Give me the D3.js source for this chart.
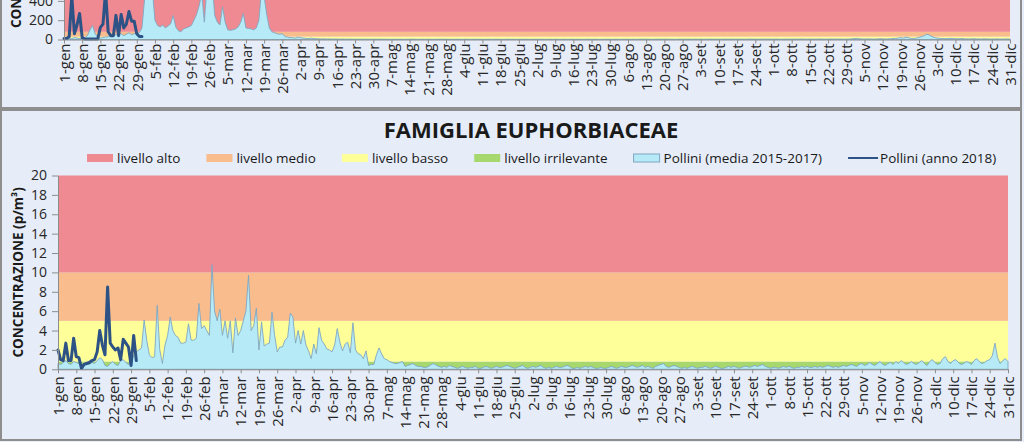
<!DOCTYPE html>
<html><head><meta charset="utf-8">
<script src="https://cdn.jsdelivr.net/npm/d3@7"></script>
<style>body{margin:0;background:#e6edf8;} svg{display:block;font-family:"Open Sans",sans-serif;}</style>
</head><body><svg id="c" width="1024" height="442"></svg>
<script>
// ---------- DATA ----------
const weekLabels = ["1-gen","8-gen","15-gen","22-gen","29-gen","5-feb","12-feb","19-feb","26-feb","5-mar","12-mar","19-mar","26-mar","2-apr","9-apr","16-apr","23-apr","30-apr","7-mag","14-mag","21-mag","28-mag","4-giu","11-giu","18-giu","25-giu","2-lug","9-lug","16-lug","23-lug","30-lug","6-ago","13-ago","20-ago","27-ago","3-set","10-set","17-set","24-set","1-ott","8-ott","15-ott","22-ott","29-ott","5-nov","12-nov","19-nov","26-nov","3-dic","10-dic","17-dic","24-dic","31-dic"];
const levelNames = ["livello irrilevante","livello basso","livello medio","livello alto"];
const levelColors = ["#a6d86e","#ffff99","#f9bc8c","#f08a92"];
// upper bound of each level (irrilevante, basso, medio, alto)
const cupLevels = [10, 30, 80, 2000];
const euphLevels = [0.8, 5, 10, 20];
const cupTicks = [0,200,400,600,800,1000,1200,1400,1600,1800,2000];
const euphTicks = [0,2,4,6,8,10,12,14,16,18,20];
const seriesNames = ["Pollini (media 2015-2017)","Pollini (anno 2018)"];

// upper chart (partially visible) daily mean 2015-2017
const cupMedia = [
10,10,15,10,20,15,10,15,20,40,
100,145,60,20,15,20,25,30,40,35,
50,45,60,40,55,70,50,60,65,70,
120,420,600,750,520,200,145,130,150,120,
140,160,250,130,90,80,110,120,130,145,
200,260,350,480,180,550,700,600,250,180,
150,340,180,100,95,100,110,130,180,270,
120,115,110,100,120,200,520,450,260,120,
80,70,60,55,60,30,25,20,20,15,
25,20,15,12,10,15,10,8,6,5,
6,4,5,3,4,3,2,3,2,2,
3,2,1,2,1,1,2,1,1,2,
1,1,2,1,1,1,0,1,1,1,
1,0,1,1,2,1,0,1,1,0,
1,1,0,1,1,2,1,1,0,1,
0,1,1,0,1,1,1,0,1,1,
1,0,0,1,1,0,1,1,0,0,
1,1,0,1,0,0,1,1,1,0,
0,1,0,1,1,0,0,1,0,1,
1,0,1,0,0,1,1,0,1,0,
0,1,1,0,1,1,0,0,1,1,
1,0,1,1,0,1,1,1,0,1,
0,1,1,2,1,1,0,1,1,2,
1,1,2,1,1,0,1,2,1,1,
2,1,1,2,1,2,1,1,2,2,
1,2,1,1,2,2,1,2,2,1,
2,2,1,2,3,2,2,1,2,3,
2,3,2,2,3,2,1,2,3,2,
2,3,2,3,4,3,2,3,3,2,
3,4,3,2,3,4,3,3,4,3,
2,3,4,6,10,12,8,5,4,6,
5,4,3,5,8,6,4,5,7,10,
12,15,20,15,25,18,12,10,15,22,
30,40,55,45,30,20,15,12,10,8,
10,12,10,8,6,10,8,6,5,6,
8,6,5,4,6,5,4,3,4,5,
4,3,4,5,4
];
const cup2018 = [10,10,30,450,60,150,270,20,5,5,5,5,5,5,125,160,500,80,40,40,250,40,260,120,160,290,190,190,60,30,30];

// Euphorbiaceae daily mean 2015-2017
const euphMedia = [
0.6,0.5,0.7,0.9,0.6,0.5,0.8,0.7,0.6,0.4,
0.5,0.6,0.5,0.7,0.6,0.9,1.2,1.0,0.4,0.3,
0.6,0.8,0.5,0.4,0.9,1.0,0.7,0.5,0.9,1.4,
1.8,
2.0,2.2,5.1,3.0,1.5,1.2,1.3,6.6,2.0,0.6,
2.5,3.5,5.4,4.0,3.5,3.3,2.7,2.7,2.8,4.7,
3.0,3.0,3.2,6.8,4.2,4.5,4.0,3.5,10.8,6.0,
5.0,6.2,3.5,5.0,3.2,5.0,1.7,5.3,3.5,4.0,
5.0,6.0,9.7,4.0,4.5,6.3,2.0,4.9,2.4,2.6,
2.7,5.9,3.5,1.8,2.3,2.3,3.0,3.3,5.8,5.4,
2.7,4.0,2.6,4.0,2.5,1.9,1.1,2.6,1.6,4.3,
3.0,2.6,2.1,2.0,1.8,2.5,4.2,2.8,1.9,2.6,
2.8,1.7,4.8,2.0,1.6,1.5,1.1,1.9,0.4,0.5,
0.5,1.5,2.2,1.6,1.1,1.0,0.8,0.7,0.6,0.6,
0.7,0.8,0.3,0.4,0.5,0.6,0.4,0.3,0.3,0.2,
0.2,0.3,0.5,0.6,0.4,0.3,
0.2,0.3,0.2,0.4,0.3,0.2,0.1,0.2,0.3,0.2,
0.1,0.2,0.2,0.3,0.1,0.1,0.2,0.3,0.2,0.1,
0.2,0.3,0.2,0.2,0.3,0.4,0.3,0.2,0.1,0.2,
0.3,0.4,0.2,0.1,0.2,0.3,0.2,0.3,0.4,0.2,
0.1,0.2,0.1,0.2,0.3,0.2,0.2,0.3,0.4,0.3,
0.1,0.1,0.2,0.1,0.2,0.3,0.2,0.3,0.2,0.1,
0.1,0.2,0.1,0.1,0.2,0.3,0.2,0.1,0.2,0.3,
0.2,0.2,0.3,0.4,0.3,0.2,0.3,0.4,0.2,0.3,
0.2,0.1,0.3,0.4,0.5,0.6,0.3,0.2,0.3,0.4,
0.3,0.2,0.1,0.2,0.1,0.2,0.3,0.2,0.1,0.2,
0.2,0.3,0.2,0.1,0.2,0.3,0.2,0.1,0.1,0.2,
0.3,0.2,0.3,0.2,0.1,0.2,0.3,0.3,0.2,0.3,
0.4,0.3,0.4,0.5,0.3,0.2,0.1,0.2,0.2,0.1,
0.2,0.3,0.2,0.3,0.2,0.1,0.2,0.2,0.3,0.2,
0.3,0.2,0.2,0.3,0.2,0.3,0.2,0.3,0.4,0.3,
0.2,0.3,0.2,0.3,0.4,0.3,0.4,0.5,0.4,0.3,
0.5,0.6,0.4,0.5,0.7,0.5,0.4,0.6,0.8,0.5,
0.4,0.6,0.7,0.5,0.8,0.6,0.9,0.7,0.5,0.6,
0.8,0.6,0.5,0.7,0.9,0.6,0.4,0.8,1.0,0.7,
0.5,0.6,1.1,1.3,0.8,0.6,0.9,1.0,0.7,0.5,
0.6,0.8,0.7,0.5,0.9,1.1,0.8,0.6,0.7,0.9,
1.0,1.4,2.7,1.2,0.6,0.9,1.1,0.8
];
const euph2018 = [2.0,1.0,0.9,2.7,0.9,0.9,3.2,1.3,1.2,0.1,0.5,0.6,0.7,0.9,1.0,1.8,4.0,2.5,1.5,8.5,2.7,2.3,2.0,2.2,1.0,3.1,2.7,2.3,0.4,3.5,0.9];

// ---------- DRAW ----------
const W = 1024, H = 442;
const svg = d3.select("#c");
const AREA_FILL = "#b5eaf6", AREA_STROKE = "#7fa6c2", LINE_COLOR = "#2d5386";
svg.append("rect").attr("width", W).attr("height", H).attr("fill", "#e6edf8");

// panel frames
svg.append("rect").attr("x", 1).attr("y", -300).attr("width", 1020).attr("height", 408)
  .attr("fill", "#e6edf8").attr("stroke", "#8e8e8e").attr("stroke-width", 2);
svg.append("rect").attr("x", 1).attr("y", 110).attr("width", 1020).attr("height", 330)
  .attr("fill", "#e6edf8").attr("stroke", "#8e8e8e").attr("stroke-width", 2);

function drawChart(cfg) {
  const g = svg.append("g");
  const x = d3.scaleLinear().domain([0, 364]).range([cfg.left, cfg.right]);
  const y = d3.scaleLinear().domain([0, cfg.max]).range([cfg.bottom, cfg.top]);

  // level bands
  const bands = cfg.levels.map((hi, i) => ({lo: i ? cfg.levels[i - 1] : 0, hi, color: levelColors[i]}));
  g.selectAll(".band").data(bands).join("rect")
    .attr("x", x(0)).attr("width", x(364) - x(0))
    .attr("y", d => y(d.hi)).attr("height", d => y(d.lo) - y(d.hi))
    .attr("fill", d => d.color);

  // mean area
  const area = d3.area().x((d, i) => x(i)).y0(y(0)).y1(d => y(d));
  g.append("path").datum(cfg.media).attr("d", area)
    .attr("fill", AREA_FILL).attr("stroke", AREA_STROKE).attr("stroke-width", 0.9);

  // 2018 line
  const line = d3.line().x((d, i) => x(i)).y(d => y(d));
  g.append("path").datum(cfg.year).attr("d", line)
    .attr("fill", "none").attr("stroke", LINE_COLOR).attr("stroke-width", 3)
    .attr("stroke-linejoin", "round").attr("stroke-linecap", "round");

  // y axis (only ticks that fall inside the picture are labelled)
  const ya = g.append("g").attr("transform", `translate(${cfg.left},0)`)
    .call(d3.axisLeft(y).tickValues(cfg.ticks.filter(t => y(t) > -8)).tickSize(6).tickSizeOuter(0).tickPadding(5));
  ya.selectAll("path,line").attr("stroke", "#8c8c8c");
  ya.selectAll("text").attr("fill", "#262626").style("font-size", "14px").style("font-family", "Open Sans");

  // x axis
  const xa = g.append("g").attr("transform", `translate(0,${cfg.bottom})`)
    .call(d3.axisBottom(x).tickValues(d3.range(0, 365, 7)).tickFormat((d, i) => weekLabels[i])
      .tickSize(4).tickSizeOuter(0));
  xa.selectAll("path,line").attr("stroke", "#8c8c8c");
  xa.selectAll("text")
    .attr("transform", "rotate(-90)").attr("x", -cfg.labelOff).attr("y", 0).attr("dy", "0.35em")
    .style("text-anchor", "end").attr("fill", "#262626")
    .style("font-size", "15px").style("font-family", "Open Sans");

  // y title
  g.append("text").attr("transform", `translate(${cfg.titleX},${(cfg.top + cfg.bottom) / 2}) rotate(-90)`)
    .attr("text-anchor", "middle").attr("dy", "0.35em")
    .style("font-weight", "bold").style("font-size", "13.5px").attr("fill", "#1a1a1a")
    .text("CONCENTRAZIONE (p/m³)");
}

// upper (cut) chart
drawChart({left: 64, right: 1010, bottom: 39.5, top: 39.5 - 193, max: 2000,
  levels: cupLevels, media: cupMedia, year: cup2018, ticks: cupTicks, labelOff: 4, titleX: 16});
// lower chart
drawChart({left: 58, right: 1008, bottom: 369.3, top: 175.5, max: 20,
  levels: euphLevels, media: euphMedia, year: euph2018, ticks: euphTicks, labelOff: 7, titleX: 18.5});

// title
svg.append("text").attr("x", 531).attr("y", 130).attr("dy", "0.35em").attr("text-anchor", "middle")
  .style("font-weight", "bold").style("font-size", "22px").attr("fill", "#1a1a1a")
  .text("FAMIGLIA EUPHORBIACEAE");

// legend
const legendItems = [
  {name: "livello alto", type: "rect", fill: levelColors[3]},
  {name: "livello medio", type: "rect", fill: levelColors[2]},
  {name: "livello basso", type: "rect", fill: levelColors[1]},
  {name: "livello irrilevante", type: "rect", fill: levelColors[0]},
  {name: seriesNames[0], type: "area", fill: AREA_FILL},
  {name: seriesNames[1], type: "line"}
];
const lg = svg.append("g");
let lx = 87;
const ly = 158;
legendItems.forEach(it => {
  if (it.type === "line") {
    lg.append("line").attr("x1", lx).attr("x2", lx + 30).attr("y1", ly).attr("y2", ly)
      .attr("stroke", LINE_COLOR).attr("stroke-width", 2);
    lx += 32;
  } else {
    lg.append("rect").attr("x", lx).attr("y", ly - 4).attr("width", 26).attr("height", 8)
      .attr("fill", it.fill).attr("stroke", it.type === "area" ? AREA_STROKE : "none").attr("stroke-width", 1);
    lx += 30;
  }
  const t = lg.append("text").attr("x", lx).attr("y", ly).attr("dy", "0.35em")
    .style("font-size", "13.5px").attr("fill", "#1a1a1a").text(it.name);
  lx += t.node().getComputedTextLength() + 26;
});
</script>
</body></html>
